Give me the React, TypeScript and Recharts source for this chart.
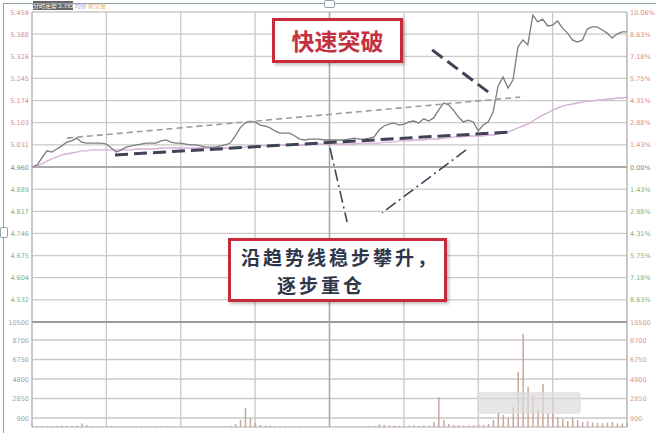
import React from "react";
import {
  ComposedChart,
  Line,
  Bar,
  XAxis,
  YAxis,
  CartesianGrid,
  ReferenceLine,
} from "recharts";

const PREV_CLOSE = 4.96;

// price every 2 minutes, 121 slots (09:30 .. 15:00)
const prices = [
  4.960, 4.966, 4.989, 5.012, 5.008, 5.018, 5.028, 5.040, 5.044, 5.053,
  5.040, 5.037, 5.037, 5.037, 5.037, 5.034, 5.021, 5.008, 5.015, 5.024,
  5.028, 5.031, 5.034, 5.037, 5.037, 5.037, 5.044, 5.047, 5.040, 5.037,
  5.037, 5.034, 5.031, 5.031, 5.028, 5.024, 5.024, 5.024, 5.028, 5.031,
  5.037, 5.060, 5.086, 5.102, 5.105, 5.105, 5.095, 5.092, 5.086, 5.076,
  5.069, 5.069, 5.069, 5.060, 5.050, 5.047, 5.050, 5.050, 5.050, 5.047,
  5.047, 5.047, 5.047, 5.047, 5.050, 5.053, 5.050, 5.050, 5.053, 5.057,
  5.079, 5.092, 5.098, 5.102, 5.095, 5.098, 5.105, 5.108, 5.102, 5.115,
  5.108, 5.118, 5.143, 5.166, 5.160, 5.143, 5.121, 5.105, 5.111, 5.105,
  5.076, 5.095, 5.105, 5.137, 5.221, 5.250, 5.214, 5.240, 5.346, 5.369,
  5.353, 5.449, 5.427, 5.436, 5.414, 5.417, 5.430, 5.407, 5.391, 5.369,
  5.362, 5.369, 5.404, 5.411, 5.411, 5.401, 5.391, 5.375, 5.388, 5.395,
  5.395,
];

const avgPrices = [
  4.960, 4.963, 4.970, 4.979, 4.986, 4.992, 4.999, 5.002, 5.005, 5.008,
  5.012, 5.012, 5.015, 5.015, 5.015, 5.015, 5.015, 5.015, 5.015, 5.015,
  5.015, 5.018, 5.018, 5.018, 5.018, 5.018, 5.021, 5.021, 5.021, 5.021,
  5.021, 5.021, 5.021, 5.021, 5.021, 5.021, 5.021, 5.021, 5.021, 5.021,
  5.021, 5.024, 5.024, 5.024, 5.028, 5.028, 5.028, 5.028, 5.031, 5.031,
  5.031, 5.031, 5.031, 5.031, 5.031, 5.031, 5.034, 5.034, 5.034, 5.034,
  5.034, 5.034, 5.034, 5.034, 5.034, 5.034, 5.037, 5.037, 5.037, 5.037,
  5.037, 5.040, 5.040, 5.040, 5.044, 5.044, 5.044, 5.047, 5.047, 5.047,
  5.050, 5.050, 5.050, 5.053, 5.053, 5.057, 5.057, 5.057, 5.060, 5.060,
  5.060, 5.060, 5.063, 5.063, 5.066, 5.069, 5.073, 5.079, 5.086, 5.092,
  5.098, 5.108, 5.118, 5.127, 5.134, 5.143, 5.150, 5.156, 5.160, 5.163,
  5.166, 5.169, 5.172, 5.172, 5.176, 5.176, 5.179, 5.179, 5.182, 5.182,
  5.185,
];

const volumes = [
  260, 120, 90, 110, 80, 100, 140, 90, 120, 160,
  350, 180, 90, 70, 80, 60, 120, 90, 70, 80,
  60, 70, 80, 60, 70, 90, 110, 80, 70, 60,
  50, 60, 70, 60, 50, 70, 60, 50, 60, 80,
  120, 300, 700, 1900, 900, 400, 200, 150, 120, 100,
  90, 80, 70, 80, 90, 60, 70, 60, 50, 60,
  70, 60, 50, 60, 70, 80, 60, 70, 90, 110,
  250, 200, 160, 140, 120, 130, 150, 140, 130, 170,
  160, 500, 3000, 700, 300, 200, 180, 160, 140, 150,
  260, 220, 300, 700, 1500, 1200, 900, 2000, 5500, 9300,
  4000, 3200, 1800, 4300, 1400, 2600, 1000, 800, 600, 900,
  700, 500, 600, 450, 400, 380, 420, 500, 380, 350,
  400,
];

const priceTicks = [
  4.461, 4.532, 4.604, 4.675, 4.746, 4.817, 4.889, 4.96,
  5.031, 5.103, 5.174, 5.245, 5.316, 5.388, 5.459,
];
const volumeTicks = [900, 2850, 4800, 6750, 8700, 10500];
const timeTicks = [0, 30, 60, 90, 120, 150, 180, 210, 240];

const data = prices.map((p, i) => ({
  minute: i * 2,
  price: p,
  avg: avgPrices[i],
  volume: volumes[i],
}));

const GRID = "#c9c9c9";
const DARK_DASH = "#3e4357";

function priceTick(side: "left" | "right") {
  return (props: any) => {
    const { x, y, payload } = props;
    const v = payload.value;
    if (Math.abs(v - priceTicks[0]) < 1e-6) return <g />;
    const pct = (v / PREV_CLOSE - 1) * 100;
    const color =
      Math.abs(pct) < 0.01 ? "#8a8a8a" : pct > 0 ? "#e08a8a" : "#7fb08a";
    const label =
      side === "left" ? v.toFixed(3) : Math.abs(pct).toFixed(2) + "%";
    return (
      <text
        x={x}
        y={y}
        dy={2.5}
        textAnchor={side === "left" ? "end" : "start"}
        fontSize={6.5}
        fill={color}
        fontFamily="DejaVu Sans"
      >
        {label}
      </text>
    );
  };
}

function volumeTick(side: "left" | "right") {
  return (props: any) => {
    const { x, y, payload } = props;
    return (
      <text
        x={x}
        y={y}
        dy={2.5}
        textAnchor={side === "left" ? "end" : "start"}
        fontSize={6.5}
        fill={side === "left" ? "#a0a0a0" : "#d29a9a"}
        fontFamily="DejaVu Sans"
      >
        {payload.value.toFixed(0)}
      </text>
    );
  };
}

const boxStyle: React.CSSProperties = {
  position: "absolute",
  background: "#fff",
  border: "3px solid #c92a3a",
  boxShadow: "2px 2px 3px rgba(0,0,0,0.25)",
  fontFamily: "'Noto Sans CJK SC', sans-serif",
  fontWeight: 700,
  boxSizing: "border-box",
};

export default function App() {
  return (
    <div
      style={{
        position: "absolute",
        left: 0,
        top: 0,
        width: 656,
        height: 433,
        background: "#fff",
        overflow: "hidden",
      }}
    >
      {/* legend strip */}
      <div
        style={{
          position: "absolute",
          left: 33,
          top: 2,
          fontSize: 6,
          lineHeight: "8px",
          fontFamily: "'Noto Sans CJK SC', sans-serif",
          whiteSpace: "nowrap",
        }}
      >
        <span style={{ color: "#fff", background: "#666" }}>分时走势 5.395</span>{" "}
        <span style={{ color: "#b98bd0" }}>均价</span>{" "}
        <span style={{ color: "#f0b080" }}>成交量</span>
      </div>

      <div style={{ position: "absolute", left: 0, top: 0 }}>
        <ComposedChart
          width={656}
          height={322}
          data={data}
          margin={{ top: 12, right: 0, left: 0, bottom: 0 }}
        >
          <CartesianGrid stroke={GRID} strokeWidth={1.3} />
          <XAxis
            dataKey="minute"
            type="number"
            domain={[0, 240]}
            ticks={timeTicks}
            hide
          />
          <YAxis
            domain={[priceTicks[0], priceTicks[priceTicks.length - 1]]}
            ticks={priceTicks}
            interval={0}
            allowDataOverflow
            width={32}
            tickSize={0}
            tickMargin={3}
            stroke="#b5b5b5"
            tick={priceTick("left")}
          />
          <YAxis
            yAxisId="r"
            orientation="right"
            domain={[priceTicks[0], priceTicks[priceTicks.length - 1]]}
            ticks={priceTicks}
            interval={0}
            allowDataOverflow
            width={29}
            tickSize={0}
            tickMargin={3}
            stroke="#b5b5b5"
            tick={priceTick("right")}
          />
          <ReferenceLine y={PREV_CLOSE} stroke="#9a9a9a" strokeWidth={1.6} />
          <ReferenceLine x={120} stroke="#a8a8a8" strokeWidth={1.4} />
          <Line
            dataKey="avg"
            stroke="#d6aed6"
            strokeWidth={1.4}
            dot={false}
            isAnimationActive={false}
          />
          <Line
            dataKey="price"
            stroke="#7c7c7c"
            strokeWidth={1.3}
            dot={false}
            isAnimationActive={false}
          />
          {/* upper trend line */}
          <ReferenceLine
            segment={[
              { x: 14.1, y: 5.053 },
              { x: 196.9, y: 5.185 },
            ]}
            stroke="#9c9c9c"
            strokeWidth={1.6}
            strokeDasharray="6 4"
          />
          {/* lower trend line */}
          <ReferenceLine
            segment={[
              { x: 33.5, y: 4.999 },
              { x: 194.0, y: 5.073 },
            ]}
            stroke={DARK_DASH}
            strokeWidth={3}
            strokeDasharray="13 6"
          />
          {/* pointer to 快速突破 */}
          <ReferenceLine
            segment={[
              { x: 161.4, y: 5.337 },
              { x: 185.6, y: 5.192 },
            ]}
            stroke={DARK_DASH}
            strokeWidth={3}
            strokeDasharray="13 6"
          />
          {/* pointers to the lower note */}
          <ReferenceLine
            segment={[
              { x: 120.2, y: 5.021 },
              { x: 127.1, y: 4.783 },
            ]}
            stroke={DARK_DASH}
            strokeWidth={1.6}
            strokeDasharray="12 4 2 4"
          />
          <ReferenceLine
            segment={[
              { x: 175.1, y: 5.015 },
              { x: 141.2, y: 4.812 },
            ]}
            stroke={DARK_DASH}
            strokeWidth={1.6}
            strokeDasharray="12 4 2 4"
          />
        </ComposedChart>
      </div>

      <div style={{ position: "absolute", left: 0, top: 312 }}>
        <ComposedChart
          width={656}
          height={121}
          data={data}
          margin={{ top: 10, right: 0, left: 0, bottom: 6 }}
        >
          <CartesianGrid stroke={GRID} strokeWidth={1.3} />
          <XAxis
            dataKey="minute"
            type="number"
            domain={[0, 240]}
            ticks={timeTicks}
            hide
          />
          <YAxis
            domain={[0, volumeTicks[volumeTicks.length - 1]]}
            ticks={volumeTicks}
            interval={0}
            allowDataOverflow
            width={32}
            tickSize={0}
            tickMargin={3}
            stroke="#b5b5b5"
            tick={volumeTick("left")}
          />
          <YAxis
            yAxisId="r"
            orientation="right"
            domain={[0, volumeTicks[volumeTicks.length - 1]]}
            ticks={volumeTicks}
            interval={0}
            allowDataOverflow
            width={29}
            tickSize={0}
            tickMargin={3}
            stroke="#b5b5b5"
            tick={volumeTick("right")}
          />
          <ReferenceLine
            y={volumeTicks[volumeTicks.length - 1]}
            stroke="#9a9a9a"
            strokeWidth={1.8}
          />
          <ReferenceLine x={120} stroke="#a8a8a8" strokeWidth={1.4} />
          <Bar
            dataKey="volume"
            fill="#c9a89c"
            barSize={1.5}
            isAnimationActive={false}
          />
        </ComposedChart>
      </div>

      {/* watermark patch */}
      <div
        style={{
          position: "absolute",
          left: 477,
          top: 392,
          width: 104,
          height: 22,
          background: "rgba(220,220,220,0.7)",
          borderRadius: 3,
        }}
      />

      {/* notes */}
      <div
        style={{
          ...boxStyle,
          left: 272,
          top: 18,
          width: 131,
          height: 45,
          color: "#c3313f",
          fontSize: 23,
          lineHeight: "39px",
          textAlign: "center",
        }}
      >
        快速突破
      </div>
      <div
        style={{
          ...boxStyle,
          left: 228,
          top: 238,
          width: 219,
          height: 64,
          color: "#30364a",
          fontSize: 19,
          letterSpacing: 3,
          lineHeight: "28px",
          paddingTop: 2,
          paddingLeft: 10,
          whiteSpace: "nowrap",
        }}
      >
        <div>沿趋势线稳步攀升，</div>
        <div style={{ paddingLeft: 36 }}>逐步重仓</div>
      </div>

      {/* frame with selection handles */}
      <div
        style={{
          position: "absolute",
          left: 3,
          top: 3,
          width: 660,
          height: 440,
          borderLeft: "1.5px solid #8fa3ad",
          borderTop: "1.5px solid #8fa3ad",
        }}
      />
      <div
        style={{
          position: "absolute",
          left: 324,
          top: 0,
          width: 9,
          height: 6,
          border: "1px solid #8fa3ad",
          background: "#fff",
          borderRadius: 2,
        }}
      />
      <div
        style={{
          position: "absolute",
          left: 0,
          top: 227,
          width: 6,
          height: 9,
          border: "1px solid #8fa3ad",
          background: "#fff",
          borderRadius: 2,
        }}
      />
    </div>
  );
}
